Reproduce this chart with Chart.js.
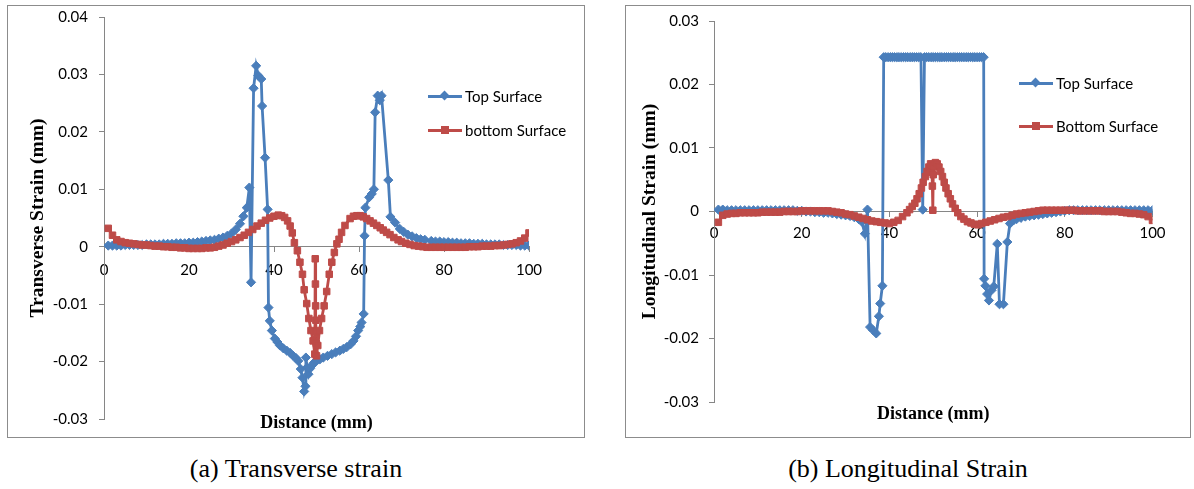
<!DOCTYPE html>
<html>
<head>
<meta charset="utf-8">
<script src="https://cdn.jsdelivr.net/npm/chart.js@4.4.1/dist/chart.umd.min.js"></script>
<style>
  body { margin: 0; background: #fff; width: 1194px; height: 489px; position: relative; overflow: hidden; }
  .panel { position: absolute; border: 1px solid #8c8c8c; background: #fff; }
  .panel canvas { position: absolute; left: 0; top: 0; }
  .item { position: absolute; height: 18px; white-space: nowrap; font: 15px Lato, sans-serif; color: #000; line-height: 18px; }
  .item .ln { position: absolute; left: 0; top: 8px; width: 34px; height: 3px; }
  .item .mk { position: absolute; }
  .item span { position: absolute; left: 37px; top: 0; }
  .caption { position: absolute; top: 454px; text-align: center; font: 26px "Liberation Serif", "Times New Roman", serif; color: #000; line-height: 30px; }
</style>
</head>
<body>

<div class="panel" id="panelA" style="left:7px; top:5px; width:576px; height:431px;">
  <canvas id="chartA" width="576" height="431"></canvas>
  <div class="item" style="left:420px; top:81px;">
    <div class="ln" style="background:#4A7EBB"></div>
    <div class="mk" style="left:13px; top:5px; width:7px; height:7px; background:#4A7EBB; transform:rotate(45deg)"></div>
    <span>Top Surface</span>
  </div>
  <div class="item" style="left:420px; top:115px;">
    <div class="ln" style="background:#BE4B48"></div>
    <div class="mk" style="left:13px; top:5px; width:8px; height:8px; background:#BE4B48"></div>
    <span>bottom Surface</span>
  </div>
</div>

<div class="panel" id="panelB" style="left:625px; top:5px; width:564px; height:431px;">
  <canvas id="chartB" width="564" height="431"></canvas>
  <div class="item" style="left:393px; top:68px;">
    <div class="ln" style="background:#4A7EBB"></div>
    <div class="mk" style="left:13px; top:5px; width:7px; height:7px; background:#4A7EBB; transform:rotate(45deg)"></div>
    <span>Top Surface</span>
  </div>
  <div class="item" style="left:393px; top:111px;">
    <div class="ln" style="background:#BE4B48"></div>
    <div class="mk" style="left:13px; top:5px; width:8px; height:8px; background:#BE4B48"></div>
    <span>Bottom Surface</span>
  </div>
</div>

<div class="caption" style="left:7px; width:578px;">(a) Transverse strain</div>
<div class="caption" style="left:625px; width:566px;">(b) Longitudinal Strain</div>

<script>
// x tick labels (distance, mm)
const xTicks = [0, 20, 40, 60, 80, 100];
// y tick labels
const yTicksA = [-0.03, -0.02, -0.01, 0, 0.01, 0.02, 0.03, 0.04];
const yTicksB = [-0.03, -0.02, -0.01, 0, 0.01, 0.02, 0.03];

// (a) transverse strain - top surface
const transTopX = [1,2,3,4,5,6,7,8,9,10,11,12,13,14,15,16,17,18,19,20,21,22,23,24,25,26,27,28,29,30,31,32,32.8,33.6,34.2,34.6,35.2,35.8,36.3,37,37.2,37.9,38.5,38.7,39,39.5,40.2,40.8,41.4,42.2,43,43.8,44.5,45.2,45.7,46.3,46.7,47.1,47.4,47.5,47.8,48.1,48.5,48.9,49.4,50,50.8,51.6,52.6,53.6,54.5,55.5,56.3,57.1,58,58.7,59.3,59.8,60.3,60.6,61.1,61.3,61.5,62.4,63,63.5,63.8,64.4,64.9,65.3,66.9,67.4,68.5,69.6,70.5,71.5,72.5,73.5,74.5,75.5,77,78,79,80,81,82,83,84,85,86,87,88,89,90,91,92,93,94,95,96,97,98,99,100];
const transTopY = [0.0002,0.0002,0.0002,0.0002,0.0003,0.0003,0.0003,0.0003,0.0003,0.0004,0.0004,0.0004,0.0004,0.0005,0.0005,0.0005,0.0006,0.0006,0.0006,0.0007,0.0007,0.0008,0.0009,0.001,0.0011,0.0012,0.0014,0.0016,0.0019,0.0023,0.003,0.004,0.0053,0.0068,0.0103,-0.0062,0.0276,0.0315,0.0298,0.0292,0.0245,0.0155,0.0065,-0.0106,-0.0129,-0.0146,-0.016,-0.0166,-0.0172,-0.0177,-0.0181,-0.0185,-0.019,-0.0194,-0.0199,-0.0213,-0.0228,-0.0252,-0.0243,-0.0193,-0.021,-0.0222,-0.0212,-0.0207,-0.0202,-0.0199,-0.0196,-0.0193,-0.019,-0.0187,-0.0184,-0.0181,-0.0178,-0.0175,-0.017,-0.0164,-0.0156,-0.0146,-0.0139,-0.0132,-0.0117,0.0019,0.0068,0.0086,0.0092,0.01,0.0234,0.0263,0.0255,0.0263,0.0116,0.0052,0.0042,0.0031,0.0026,0.0021,0.0018,0.0015,0.0013,0.0012,0.001,0.0009,0.0009,0.0008,0.0008,0.0007,0.0007,0.0006,0.0006,0.0006,0.0005,0.0005,0.0005,0.0004,0.0004,0.0004,0.0004,0.0003,0.0003,0.0003,0.0003,0.0002,0.0002,0.0002];

// (a) transverse strain - bottom surface
const transBotX = [1,2,3,4,5,6,7,8,9,10,11,12,13,14,15,16,17,18,19,20,21,22,23,24,25,26,27,28,29,30,31,32,33,34,35,36,37,38,39,40,41,41.8,42.5,43.2,43.8,44.3,44.8,45.5,46.1,46.7,47.1,47.7,48.2,48.7,49.2,49.6,49.7,49.75,49.8,49.85,49.9,49.95,50,50.3,50.7,51.2,51.8,52.4,53,53.6,54.2,54.8,55.3,55.9,56.7,57.9,58.7,59.5,60.3,61,61.8,62.6,63.4,64.2,65,65.7,66.5,67.3,68.2,69.2,70,71,72,73,74,75,76,77,78,79,80,81,82,83,84,85,86,87,88,89,90,91,92,93,94,95,96,97,98,99,100];
const transBotY = [0.0032,0.002,0.0012,0.0009,0.0007,0.0006,0.0005,0.0004,0.0003,0.0003,0.0002,0.0001,0.0001,0,0,-0.0001,-0.0001,-0.0002,-0.0002,-0.0003,-0.0003,-0.0003,-0.0003,-0.0002,-0.0002,-0.0001,0.0001,0.0003,0.0006,0.0009,0.0012,0.0016,0.002,0.0025,0.003,0.0036,0.0041,0.0046,0.005,0.0053,0.0055,0.0054,0.0051,0.0045,0.0036,0.0024,0.0007,-0.0007,-0.0027,-0.0048,-0.0075,-0.0099,-0.0125,-0.0146,-0.0164,-0.0187,-0.0021,-0.0065,-0.0103,-0.0128,-0.0148,-0.0168,-0.019,-0.0172,-0.0146,-0.0125,-0.0103,-0.0078,-0.0048,-0.0027,-0.001,0.0005,0.0013,0.0025,0.0037,0.0049,0.0053,0.0054,0.0054,0.0052,0.0049,0.0045,0.0041,0.0037,0.0033,0.0029,0.0025,0.0021,0.0016,0.0012,0.0009,0.0006,0.0004,0.0002,0.0001,0,-0.0001,-0.0001,-0.0001,-0.0001,-0.0001,-0.0001,-0.0001,-0.0001,-0.0001,-0.0001,0,0,0,0.0001,0.0001,0.0001,0.0002,0.0002,0.0003,0.0004,0.0005,0.0007,0.001,0.0015,0.0024];

// (b) longitudinal strain - top surface
const longTopX = [1,2,3,4,5,6,7,8,9,10,11,12,13,14,15,16,17,18,19,20,21,22,23,24,25,26,27,28,29,30,31,32,33,33.7,34.4,35,35.6,36.3,37,37.6,37.9,38.4,38.7,39.2,39.7,40.2,40.7,41.2,41.7,42.2,42.7,43.2,43.7,44.2,44.7,45.2,45.7,46.2,46.7,47.2,47.6,48,48.5,49,49.5,50,50.5,51,51.5,52,52.5,53,53.5,54,54.5,55,55.5,56,56.5,57,57.5,58,58.5,59,59.5,60,60.5,61,61.5,61.6,61.9,62.3,62.7,63.3,63.8,64.6,65.1,66,66.9,67.5,68.3,69,70,71,72,73,74,75,76,77,78,79,80,81,82,83,84,85,86,87,88,89,90,91,92,93,94,95,96,97,98,99,100];
const longTopY = [0.0003,0.0003,0.0002,0.0002,0.0002,0.0002,0.0002,0.0002,0.0002,0.0002,0.0002,0.0002,0.0002,0.0002,0.0002,0.0002,0.0002,0.0002,0.0001,0.0001,0,0,-0.0001,-0.0001,-0.0002,-0.0002,-0.0003,-0.0004,-0.0005,-0.0006,-0.0007,-0.0009,-0.0012,-0.0016,-0.0035,0.0003,-0.0182,-0.0187,-0.0192,-0.0165,-0.0145,-0.0117,0.0243,0.0243,0.0243,0.0243,0.0243,0.0243,0.0243,0.0243,0.0243,0.0243,0.0243,0.0243,0.0243,0.0243,0.0243,0.0243,0.0243,0.0243,0.0003,0.0243,0.0243,0.0243,0.0243,0.0243,0.0243,0.0243,0.0243,0.0243,0.0243,0.0243,0.0243,0.0243,0.0243,0.0243,0.0243,0.0243,0.0243,0.0243,0.0243,0.0243,0.0243,0.0243,0.0243,0.0243,0.0243,0.0243,0.0243,-0.0106,-0.0117,-0.013,-0.014,-0.0124,-0.0118,-0.0051,-0.0146,-0.0146,-0.0048,-0.0019,-0.0014,-0.0012,-0.001,-0.0008,-0.0007,-0.0006,-0.0005,-0.0004,-0.0003,-0.0002,-0.0001,0,0.0001,0.0002,0.0002,0.0002,0.0002,0.0002,0.0002,0.0002,0.0002,0.0002,0.0002,0.0002,0.0002,0.0002,0.0002,0.0002,0.0002,0.0002,0.0002,0.0002,0.0002];

// (b) longitudinal strain - bottom surface
const longBotX = [1,2,3,4,5,6,7,8,9,10,11,12,13,14,15,16,17,18,19,20,21,22,23,24,25,26,27,28,29,30,31,32,33,34,35,36,37,38,39,40,41,42,43,44,44.6,45.2,45.8,46.3,46.8,47.3,47.7,48.2,48.6,49,49.4,49.7,49.8,49.9,50,50.2,50.5,50.9,51.3,51.7,52.1,52.5,52.9,53.4,53.9,54.4,55,55.6,56.3,57,57.8,58.6,59.4,60.2,61,62,63,64,65,66,67,68,69,70,71,72,73,74,75,76,77,78,79,80,81,82,83,84,85,86,87,88,89,90,91,92,93,94,95,96,97,98,99,100];
const longBotY = [-0.0017,-0.0006,-0.0004,-0.0003,-0.0003,-0.0002,-0.0002,-0.0002,-0.0002,-0.0002,-0.0001,-0.0001,-0.0001,-0.0001,-0.0001,0,0,0,0,0.0001,0.0001,0.0001,0.0001,0.0001,0.0001,0.0001,0,-0.0001,-0.0002,-0.0004,-0.0005,-0.0007,-0.0009,-0.0011,-0.0013,-0.0015,-0.0016,-0.0017,-0.0018,-0.0019,-0.0017,-0.0014,-0.0008,-0.0002,0.0003,0.0008,0.0013,0.002,0.0028,0.0037,0.0046,0.0055,0.0063,0.007,0.0075,0.0062,0.004,0.0002,0.0058,0.0072,0.0077,0.0075,0.007,0.0063,0.0055,0.0046,0.0037,0.0028,0.002,0.0012,0.0005,-0.0002,-0.0008,-0.0012,-0.0016,-0.0018,-0.002,-0.0021,-0.0019,-0.0017,-0.0015,-0.0013,-0.0011,-0.0009,-0.0008,-0.0006,-0.0004,-0.0003,-0.0002,-0.0001,0,0.0001,0.0002,0.0002,0.0002,0.0002,0.0002,0.0002,0.0002,0.0002,0.0001,0.0001,0.0001,0.0001,0.0001,0.0001,0,0,0,0,-0.0001,-0.0002,-0.0003,-0.0003,-0.0004,-0.0005,-0.0008,-0.0014];

const BLUE = '#4A7EBB';
const RED = '#BE4B48';
const AXIS = '#868686';
const tickFont = { family: 'Lato, sans-serif', size: 15 };
const xTitleFont = { family: '"Liberation Serif", "Times New Roman", serif', size: 18, weight: 'bold' };
const yTitleFont = { family: '"Liberation Serif", "Times New Roman", serif', size: 19.5, weight: 'bold' };

const pts = (xs, ys) => xs.map((x, i) => ({ x: x, y: ys[i] }));

function makeChart(id, c) {
  const ctx = document.getElementById(id).getContext('2d');
  return new Chart(ctx, {
    type: 'scatter',
    data: {
      datasets: [
        {
          label: 'Top Surface', data: pts(c.topX, c.topY), showLine: true,
          borderColor: BLUE, backgroundColor: BLUE, borderWidth: 2.8,
          pointStyle: 'rectRot', pointRadius: 4.6, pointBorderWidth: 1,
          order: 1, xAxisID: 'x', yAxisID: 'y'
        },
        {
          label: c.botLabel, data: pts(c.botX, c.botY), showLine: true,
          borderColor: RED, backgroundColor: RED, borderWidth: 2.8,
          pointStyle: 'rect', pointRadius: 4.6, pointBorderWidth: 1,
          order: 0, xAxisID: 'x', yAxisID: 'y'
        }
      ]
    },
    options: {
      responsive: false,
      animation: false,
      events: [],
      layout: { padding: { top: c.top, right: c.right, left: 0, bottom: 0 } },
      plugins: { legend: { display: false }, tooltip: { enabled: false } },
      scales: {
        x: {
          type: 'linear', position: { y: 0 }, min: 0, max: 100,
          afterBuildTicks: s => { s.ticks = xTicks.map(v => ({ value: v })); },
          ticks: { font: tickFont, color: '#000', padding: c.xPad, maxRotation: 0, autoSkip: false, callback: v => String(v) },
          grid: { drawOnChartArea: false, tickLength: 5, color: AXIS },
          border: { color: AXIS, width: 1 }
        },
        xTitle: {
          type: 'linear', axis: 'x', position: 'bottom', min: 0, max: 100,
          ticks: { display: false },
          grid: { display: false, drawTicks: false },
          border: { display: false },
          title: { display: true, text: 'Distance (mm)', font: xTitleFont, color: '#000', padding: { top: 0, bottom: c.xTitlePad } },
          afterFit: s => { s.height = c.bottom; }
        },
        y: {
          type: 'linear', position: 'left', min: c.yTicks[0], max: c.yTicks[c.yTicks.length - 1],
          afterBuildTicks: s => { s.ticks = c.yTicks.map(v => ({ value: v })); },
          ticks: { font: tickFont, color: '#000', padding: c.yPad, callback: v => String(v) },
          grid: { drawOnChartArea: false, tickLength: 5, color: AXIS },
          border: { color: AXIS, width: 1 },
          title: { display: true, text: c.yTitle, font: yTitleFont, color: '#000', padding: { top: c.yTitlePad, bottom: 0 } },
          // fixed width, and keep label overflow from pushing the plot area
          afterFit: s => { s.width = c.left; s.paddingTop = 0; s.paddingBottom = 0; }
        }
      }
    }
  });
}

makeChart('chartA', {
  topX: transTopX, topY: transTopY, botX: transBotX, botY: transBotY,
  botLabel: 'bottom Surface', yTicks: yTicksA, yTitle: 'Transverse Strain (mm)',
  left: 96, top: 11, right: 55, bottom: 18,
  xPad: 9, yPad: 11, yTitlePad: 18, xTitlePad: 3
});

makeChart('chartB', {
  topX: longTopX, topY: longTopY, botX: longBotX, botY: longBotY,
  botLabel: 'Bottom Surface', yTicks: yTicksB, yTitle: 'Longitudinal Strain (mm)',
  left: 88, top: 15, right: 37.5, bottom: 35,
  xPad: 8, yPad: 10, yTitlePad: 12, xTitlePad: 12
});
</script>
</body>
</html>
